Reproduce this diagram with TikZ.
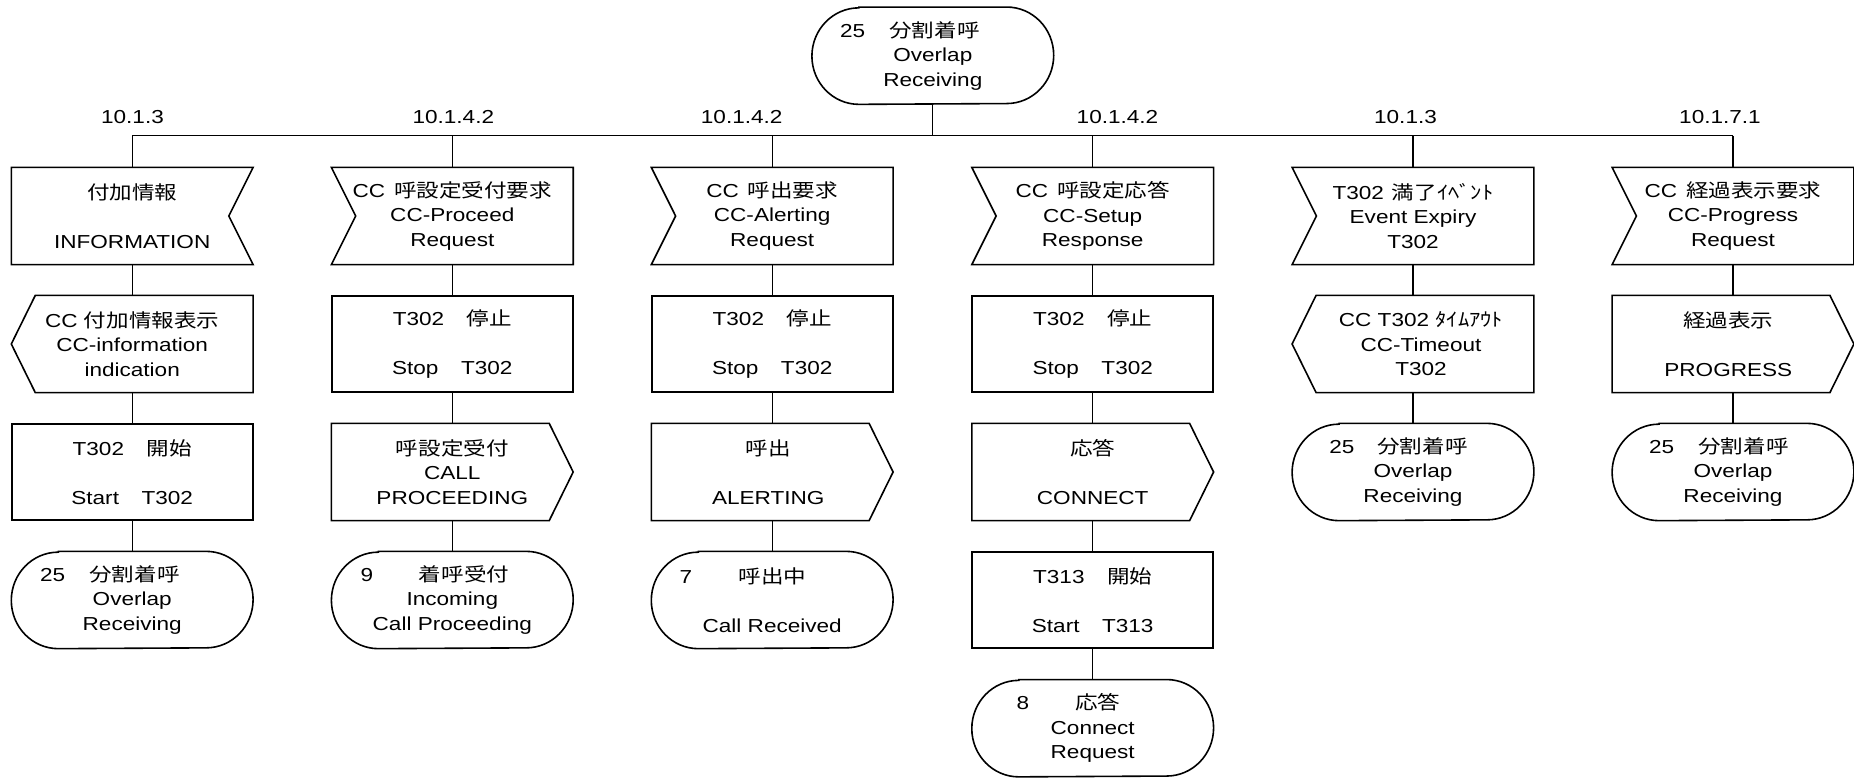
\documentclass[tikz,border=0pt]{standalone}
\usepackage{fontspec}
\setmainfont{Liberation Sans}[FakeStretch=1.2]
\newfontfamily\jpf{Noto Sans CJK JP}[FakeStretch=1.2]
\newcommand\J[1]{{\jpf #1}}
\newcommand\fl[4]{\makebox[0pt][l]{\hspace*{#3}#1}\makebox[0pt][l]{\hspace*{#4}\J{#2}}}
\begin{document}
\begin{tikzpicture}[x=0.5pt, y=-0.5pt, font=\fontsize{9.4}{12.25}\selectfont,
  base/.style={rectangle, minimum width=120.5pt, minimum height=48.25pt, inner sep=0pt, align=center},
  task/.style={base, draw, line width=0.8pt},
  conn/.style={line width=0.65pt},
  outline/.style={line width=0.8pt, line join=miter}]
\useasboundingbox (0,0) rectangle (1854,777);
% top state
\node[base] (top) at (932.8,55.7) {\fl{25}{分割着呼}{-46.4pt}{-21.7pt}\\Overlap\\Receiving};
% section labels
\node (l1) at (132.5,116.7) {10.1.3};
\node (l2) at (453.3,116.7) {10.1.4.2};
\node (l3) at (741.7,116.7) {10.1.4.2};
\node (l4) at (1117.5,116.7) {10.1.4.2};
\node (l5) at (1405.5,116.7) {10.1.3};
\node (l6) at (1720,116.7) {10.1.7.1};
% column 1
\node[base] (c1a) at (132.2,216) {\J{付加情報}\\[12.25pt]INFORMATION};
\node[base] (c1b) at (132.2,344) {CC \J{付加情報表示}\\CC-information\\indication};
\node[task] (c1c) at (132.2,472) {T302\J{　開始}\\[12.25pt]Start\J{　}T302};
\node[base] (c1d) at (132.2,600) {\fl{25}{分割着呼}{-46.1pt}{-21.4pt}\\Overlap\\Receiving};
% column 2
\node[base] (c2a) at (452.3,216) {CC\hspace{4.5pt}\J{呼設定受付要求}\\CC-Proceed\\Request};
\node[task] (c2b) at (452.3,344) {T302\J{　停止}\\[12.25pt]Stop\J{　}T302};
\node[base] (c2c) at (452.3,472) {\J{呼設定受付}\\CALL\\PROCEEDING};
\node[base] (c2d) at (452.3,600) {\fl{9}{着呼受付}{-45.8pt}{-16.7pt}\\Incoming\\Call Proceeding};
% column 3
\node[base] (c3a) at (772.2,216) {CC\hspace{4.5pt}\J{呼出要求}\\CC-Alerting\\Request};
\node[task] (c3b) at (772.2,344) {T302\J{　停止}\\[12.25pt]Stop\J{　}T302};
\node[base] (c3c) at (772.2,472) {\J{呼出}\hspace*{4pt}\\[12.25pt]ALERTING\hspace*{4pt}};
\node[base] (c3d) at (772.2,600) {\fl{7}{呼出中}{-46.3pt}{-16.7pt}\\[12.25pt]Call Received};
% column 4
\node[base] (c4a) at (1092.7,216) {CC\hspace{4.5pt}\J{呼設定応答}\\CC-Setup\\Response};
\node[task] (c4b) at (1092.7,344) {T302\J{　停止}\\[12.25pt]Stop\J{　}T302};
\node[base] (c4c) at (1092.7,472) {\J{応答}\\[12.25pt]CONNECT};
\node[task] (c4d) at (1092.7,600) {T313\J{　開始}\\[12.25pt]Start\J{　}T313};
\node[base] (c4e) at (1092.7,728.2) {\fl{8}{応答}{-38pt}{-8.8pt}\\Connect\\Request};
% column 5
\node[base] (c5a) at (1413,216) {T302\hspace{4pt}\J{満了ｲﾍﾞﾝﾄ}\\Event Expiry\\T302};
\node[base] (c5b) at (1413,344) {\hspace*{8pt}CC T302 \J{ﾀｲﾑｱｳﾄ}\\\hspace*{8pt}CC-Timeout\\\hspace*{8pt}T302};
\node[base] (c5c) at (1413,472) {\fl{25}{分割着呼}{-41.8pt}{-17.8pt}\\Overlap\\Receiving};
% column 6
\node[base] (c6a) at (1733,216) {CC\hspace{4.5pt}\J{経過表示要求}\\CC-Progress\\Request};
\node[base] (c6b) at (1733,344) {\J{経過表示}\hspace*{4.7pt}\\[12.25pt]PROGRESS\hspace*{4.7pt}};
\node[base] (c6c) at (1733,472) {\fl{25}{分割着呼}{-42pt}{-17.3pt}\\Overlap\\Receiving};
% outlines: input, notch on right
\foreach \n in {c1a}
  \draw[outline] (\n.north west) -- (\n.north east) -- ([xshift=-12.15pt]\n.east) -- (\n.south east) -- (\n.south west) -- cycle;
% input, notch on left
\foreach \n in {c2a,c3a,c4a,c5a,c6a}
  \draw[outline] (\n.north west) -- (\n.north east) -- (\n.south east) -- (\n.south west) -- ([xshift=12.15pt]\n.west) -- cycle;
% output, point on left
\foreach \n in {c1b,c5b}
  \draw[outline] ([xshift=12pt]\n.north west) -- (\n.north east) -- (\n.south east) -- ([xshift=12pt]\n.south west) -- (\n.west) -- cycle;
% output, point on right
\foreach \n in {c6b,c2c,c3c,c4c}
  \draw[outline] (\n.north west) -- ([xshift=-12pt]\n.north east) -- (\n.east) -- ([xshift=-12pt]\n.south east) -- (\n.south west) -- cycle;
% states
\foreach \n in {top,c1d,c2d,c3d,c4e,c5c,c6c}
  \draw[outline] ([xshift=23.5pt]\n.north west) -- ([xshift=-23.5pt]\n.north east)
    arc[start angle=90, end angle=-90, x radius=23.5pt, y radius=24.125pt]
    -- ([xshift=23.5pt]\n.south west)
    arc[start angle=270, end angle=90, x radius=23.5pt, y radius=24.125pt] -- cycle;
% connectors
\coordinate (bus) at (0,135.7);
\draw[conn] (top.south) -- (top.south |- bus);
\draw[conn] (c1a.north |- bus) -- (c6a.north |- bus);
\foreach \c in {c1a,c2a,c3a,c4a,c5a,c6a}
  \draw[conn] (\c.north |- bus) -- (\c.north);
\draw[conn] (c1a) -- (c1b) (c1b) -- (c1c) (c1c) -- (c1d);
\draw[conn] (c2a) -- (c2b) (c2b) -- (c2c) (c2c) -- (c2d);
\draw[conn] (c3a) -- (c3b) (c3b) -- (c3c) (c3c) -- (c3d);
\draw[conn] (c4a) -- (c4b) (c4b) -- (c4c) (c4c) -- (c4d) (c4d) -- (c4e);
\draw[conn] (c5a) -- (c5b) (c5b) -- (c5c);
\draw[conn] (c6a) -- (c6b) (c6b) -- (c6c);
\end{tikzpicture}
\end{document}
